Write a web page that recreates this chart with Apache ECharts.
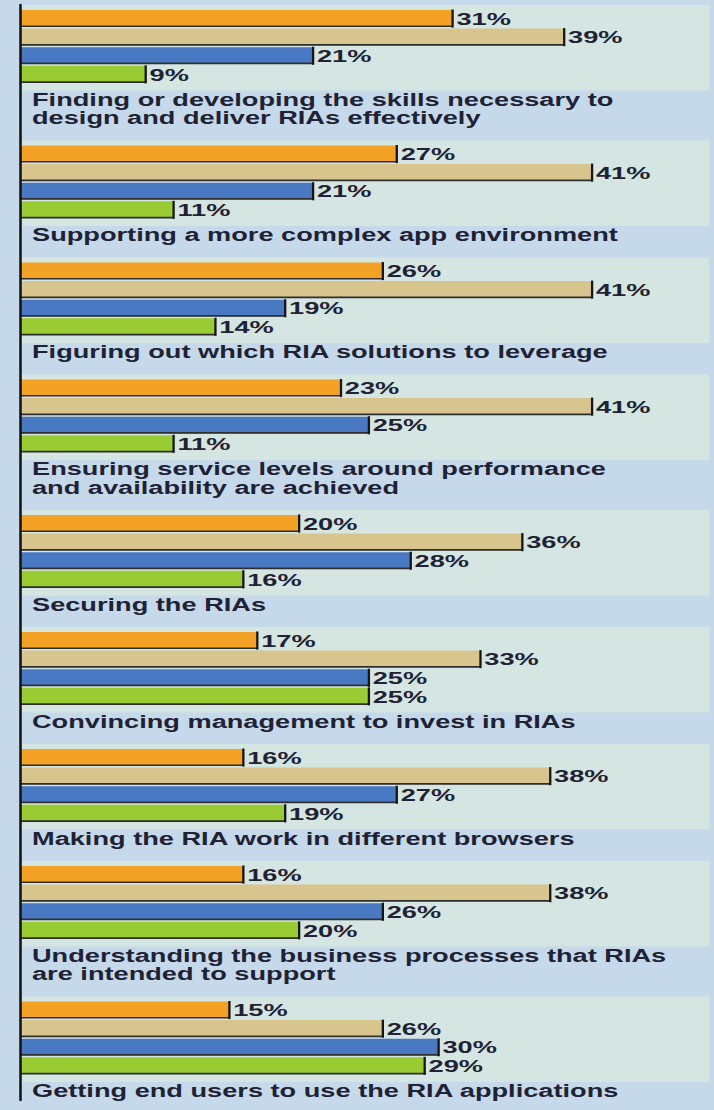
<!DOCTYPE html>
<html>
<head>
<meta charset="utf-8">
<script src="https://cdn.jsdelivr.net/npm/echarts@6/dist/echarts.min.js"></script>
<style>
  html, body { margin: 0; padding: 0; background: #c5d9eb; }
  #chart { width: 714px; height: 1110px; }
</style>
</head>
<body>
<div id="chart"></div>
<script>
// ---- data ----
const categories = [
  "Finding or developing the skills necessary to\ndesign and deliver RIAs effectively",
  "Supporting a more complex app environment",
  "Figuring out which RIA solutions to leverage",
  "Ensuring service levels around performance\nand availability are achieved",
  "Securing the RIAs",
  "Convincing management to invest in RIAs",
  "Making the RIA work in different browsers",
  "Understanding the business processes that RIAs\nare intended to support",
  "Getting end users to use the RIA applications"
];
const seriesOrange = [31, 27, 26, 23, 20, 17, 16, 16, 15];
const seriesTan    = [39, 41, 41, 41, 36, 33, 38, 38, 26];
const seriesBlue   = [21, 21, 19, 25, 28, 25, 27, 26, 30];
const seriesGreen  = [ 9, 11, 14, 11, 16, 25, 19, 20, 29];

// ---- layout (vertical units = pixels on the y value axis) ----
const TOP0 = 10, BAR_PITCH = 18.6, BAR_H = 16.6;
const LABEL_GAP = 15, LINE_H = 18.5, GROUP_TAIL = 27.6;
const groupTop = [];
(function () {
  let t = TOP0;
  categories.forEach(function (c) {
    groupTop.push(t);
    const lines = c.split("\n").length;
    t += 4 * BAR_PITCH + LABEL_GAP + (lines - 1) * LINE_H + GROUP_TAIL;
  });
})();

const colors = ["#f3a226", "#d8c58d", "#4a79c4", "#99cc33"];
const allSeries = [seriesOrange, seriesTan, seriesBlue, seriesGreen];
const FONT = "'Liberation Sans', Arial, sans-serif";
const TEXT_COLOR = "#1f2233";
const X_MAX = 49.75;

function barSeries(values, k) {
  return {
    type: "custom",
    name: "s" + (k + 1),
    z: 3,
    data: values.map(function (v, i) { return [v, i]; }),
    renderItem: function (params, api) {
      const v = api.value(0), g = api.value(1);
      const yTop = groupTop[g] + k * BAR_PITCH;
      const p0 = api.coord([0, yTop]);
      const p1 = api.coord([v, yTop + BAR_H]);
      const w = p1[0] - p0[0], h = p1[1] - p0[1];
      return {
        type: "group",
        children: [
          { type: "rect", shape: { x: p0[0], y: p0[1], width: w, height: h },
            style: { fill: colors[k] } },
          { type: "rect", shape: { x: p0[0], y: p1[1] - 1.2, width: w, height: 1.7 },
            style: { fill: "#2e2e2e" } },
          { type: "rect", shape: { x: p1[0] - 1, y: p0[1] - 0.5, width: 2.3, height: h + 1.5 },
            style: { fill: "#151515" } },
          { type: "text", x: p1[0] + 4, y: (p0[1] + p1[1]) / 2 + 0.5, scaleX: 1.6,
            style: { text: v + "%", fill: TEXT_COLOR, fontSize: 17, fontWeight: "bold",
                     fontFamily: FONT, align: "left", verticalAlign: "middle" } }
        ]
      };
    }
  };
}

const bgSeries = {
  type: "custom",
  name: "groups",
  z: 1,
  silent: true,
  data: categories.map(function (c, i) { return [0, i]; }),
  renderItem: function (params, api) {
    const g = api.value(1);
    const top = groupTop[g];
    const barsBottom = top + 4 * BAR_PITCH;
    const a = api.coord([0, top - 5]);
    const b = api.coord([49.4, barsBottom + 6]);
    const t = api.coord([0, barsBottom + LABEL_GAP - LINE_H / 2]);
    return {
      type: "group",
      children: [
        { type: "rect", shape: { x: a[0], y: a[1], width: b[0] - a[0], height: b[1] - a[1] },
          style: { fill: "#d4e5e2" } },
        { type: "text", x: t[0] + 12, y: t[1], scaleX: 1.51,
          style: { text: categories[g], fill: TEXT_COLOR, fontSize: 18, fontWeight: "bold",
                   fontFamily: FONT, lineHeight: LINE_H, align: "left", verticalAlign: "top" } }
      ]
    };
  }
};

const chart = echarts.init(document.getElementById("chart"), null, { renderer: "svg" });
chart.setOption({
  animation: false,
  backgroundColor: "#c5d9eb",
  grid: { left: 20, right: 0, top: 5, bottom: 10 },
  xAxis: { type: "value", min: 0, max: X_MAX, show: false },
  yAxis: {
    type: "value", inverse: true, min: 5, max: 1100, z: 5,
    axisLine: { show: true, lineStyle: { color: "#111", width: 2.5 } },
    axisTick: { show: false }, axisLabel: { show: false }, splitLine: { show: false }
  },
  series: [bgSeries].concat(allSeries.map(barSeries))
});
</script>
</body>
</html>
